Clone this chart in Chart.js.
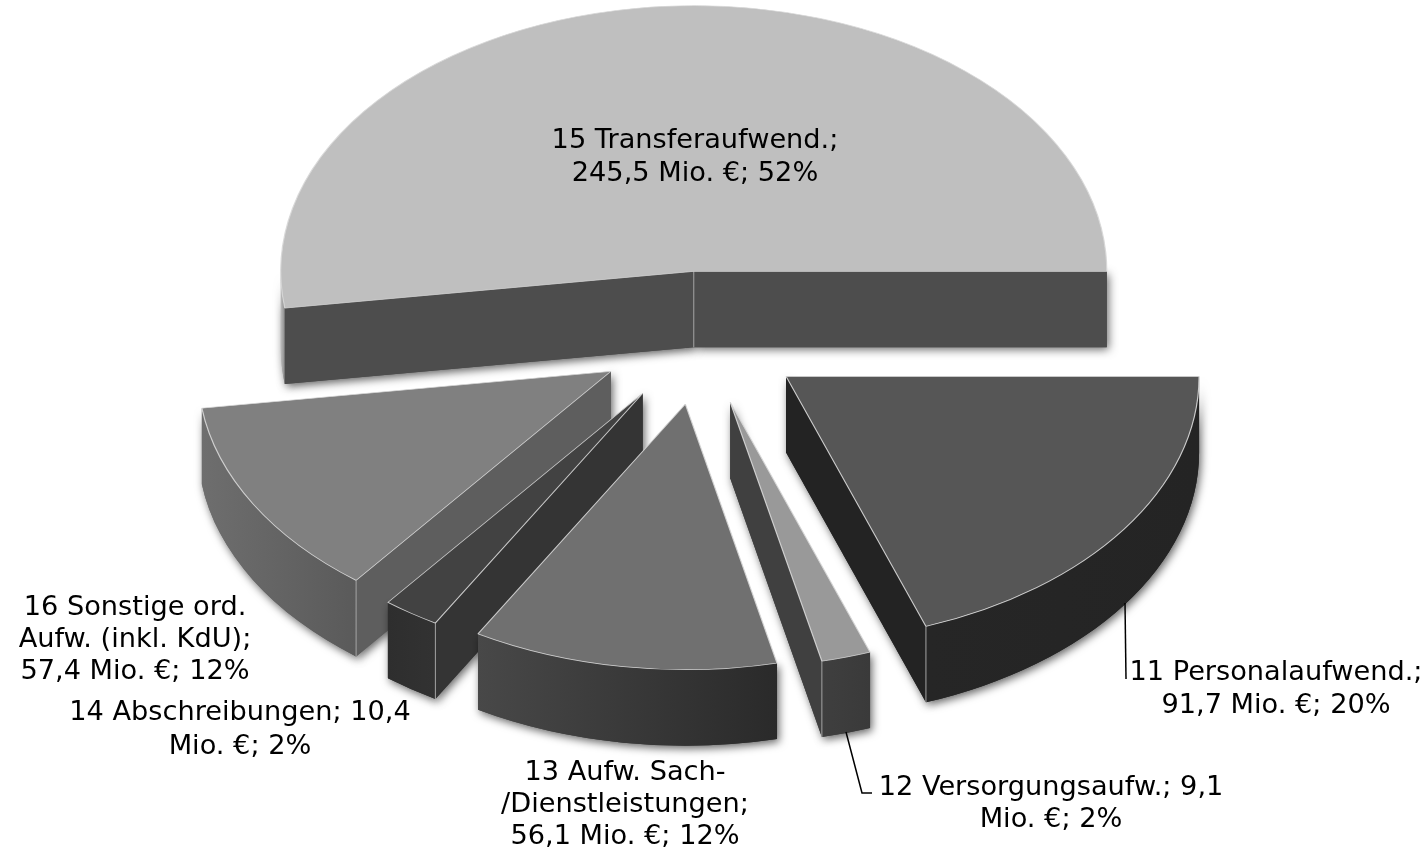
<!DOCTYPE html>
<html lang="de">
<head>
<meta charset="utf-8">
<title>Aufwendungen</title>
<script src="https://cdn.jsdelivr.net/npm/chart.js@4"></script>
<style>
  html, body { margin: 0; padding: 0; background: #fff; }
  #chart { display: block; }
</style>
</head>
<body>
<canvas id="chart" width="1428" height="854"></canvas>
<script>
const categories = ["11 Personalaufwend.", "12 Versorgungsaufw.", "13 Aufw. Sach-/Dienstleistungen", "14 Abschreibungen", "16 Sonstige ord. Aufw. (inkl. KdU)", "15 Transferaufwend."];
const values = [91.7, 9.1, 56.1, 10.4, 57.4, 245.5];
const labelLines = [
  ["11 Personalaufwend.;", "91,7 Mio. €; 20%"],
  ["12 Versorgungsaufw.; 9,1", "Mio. €; 2%"],
  ["13 Aufw. Sach-", "/Dienstleistungen;", "56,1 Mio. €; 12%"],
  ["14 Abschreibungen; 10,4", "Mio. €; 2%"],
  ["16 Sonstige ord.", "Aufw. (inkl. KdU);", "57,4 Mio. €; 12%"],
  ["15 Transferaufwend.;", "245,5 Mio. €; 52%"],
];

const topColors = ["#565656", "#999999", "#707070", "#424242", "#808080", "#bfbfbf"];
const outerColors = [["#262626", "#242424"], ["#3f3f3f", "#3a3a3a"], ["#484848", "#2a2a2a"], ["#2e2e2e", "#323232"], ["#6e6e6e", "#5a5a5a"], ["#bdbdbd", "#8a8a8a"]];
const sideColors = ["#232323", "#404040", "#3a3a3a", "#343434", "#5e5e5e", "#4d4d4d"];
const labelAnchors = [[1276, 673], [1051, 788], [625, 773], [240, 713], [135, 608], [695, 141]];
const lineHeights = [33, 32, 32, 34, 32, 33];
const leaders = [[[1125, 603], [1126, 679]], [[846, 732], [862, 793], [872, 793]]];

const squash = 0.643;
const depth = 76;
const explode = 104;
const drawOrder = [5, 4, 3, 2, 1, 0];

function wallShapes(arc, ctx, i) {
  const r = arc.outerRadius;
  const a0 = arc.startAngle, a1 = arc.endAngle;
  const mid = (a0 + a1) / 2;
  const cx = arc.x + Math.cos(mid) * explode;
  const cy = arc.y + Math.sin(mid) * explode * squash;
  const edge = a => [cx + Math.cos(a) * r, cy + Math.sin(a) * r * squash];
  const shapes = [];

  function side(a) {
    const p = edge(a);
    shapes.push({ color: sideColors[i], path: c => {
      c.moveTo(cx, cy);
      c.lineTo(p[0], p[1]);
      c.lineTo(p[0], p[1] + depth);
      c.lineTo(cx, cy + depth);
      c.closePath();
    } });
  }

  const startShows = Math.sin(a0 - Math.PI / 2) > 0;
  const endShows = Math.sin(a1 + Math.PI / 2) > 0;

  const from = Math.max(a0, 0), to = Math.min(a1, Math.PI);
  if (to > from) {
    const g = ctx.createLinearGradient(edge(to)[0], 0, edge(from)[0], 0);
    g.addColorStop(0, outerColors[i][0]);
    g.addColorStop(1, outerColors[i][1]);
    shapes.push({ color: g, path: c => {
      c.ellipse(cx, cy, r, r * squash, 0, from, to);
      c.ellipse(cx, cy + depth, r, r * squash, 0, to, from, true);
      c.closePath();
    } });
  }
  if (startShows) side(a0);
  if (endShows) side(a1);

  const verticals = [];
  if (startShows && i !== 5) verticals.push(edge(a0));
  if (endShows && to > from && a1 < Math.PI) verticals.push(edge(a1));
  if (startShows && endShows) verticals.push([cx, cy]);
  return { shapes, verticals, cx, cy };
}

const pie3d = {
  id: "pie3d",
  beforeDatasetsDraw(chart) {
    const ctx = chart.ctx;
    const arcs = chart.getDatasetMeta(0).data;

    drawOrder.forEach(i => {
      const w = wallShapes(arcs[i], ctx, i);
      ctx.save();
      ctx.shadowColor = "rgba(0,0,0,0.6)";
      ctx.shadowBlur = 9;
      ctx.shadowOffsetX = 2;
      ctx.shadowOffsetY = 3;
      w.shapes.forEach(s => {
        ctx.beginPath();
        s.path(ctx);
        ctx.fillStyle = s.color;
        ctx.fill();
      });
      ctx.restore();
      w.shapes.forEach(s => {
        ctx.beginPath();
        s.path(ctx);
        ctx.fillStyle = s.color;
        ctx.fill();
      });
      ctx.strokeStyle = "#a5a5a5";
      ctx.lineWidth = 1;
      w.verticals.forEach(p => {
        ctx.beginPath();
        ctx.moveTo(p[0], p[1]);
        ctx.lineTo(p[0], p[1] + depth);
        ctx.stroke();
      });
    });

    drawOrder.forEach(i => {
      const arc = arcs[i];
      const mid = (arc.startAngle + arc.endAngle) / 2;
      ctx.save();
      ctx.translate(arc.x + Math.cos(mid) * explode, arc.y + Math.sin(mid) * explode * squash);
      ctx.scale(1, squash);
      ctx.translate(-arc.x, -arc.y);
      arc.draw(ctx);
      ctx.restore();
    });
    return false;
  },
  afterDraw(chart) {
    const ctx = chart.ctx;
    ctx.save();
    ctx.strokeStyle = "#000";
    ctx.lineWidth = 1.5;
    leaders.forEach(l => {
      ctx.beginPath();
      l.forEach((p, n) => n ? ctx.lineTo(p[0], p[1]) : ctx.moveTo(p[0], p[1]));
      ctx.stroke();
    });
    ctx.fillStyle = "#000";
    ctx.font = '27.2px "DejaVu Sans"';
    ctx.textAlign = "center";
    ctx.textBaseline = "middle";
    labelLines.forEach((lines, i) => {
      lines.forEach((t, n) => {
        ctx.fillText(t, labelAnchors[i][0], labelAnchors[i][1] + n * lineHeights[i]);
      });
    });
    ctx.restore();
  },
};

new Chart(document.getElementById("chart"), {
  type: "pie",
  data: {
    labels: categories,
    datasets: [{
      data: values,
      backgroundColor: topColors,
      borderColor: "rgba(215,215,215,0.9)",
      borderWidth: 1.2,
      hoverOffset: 0,
    }],
  },
  options: {
    responsive: false,
    animation: false,
    rotation: 90,
    radius: 413,
    layout: { padding: { right: 26, bottom: 178 } },
    plugins: { legend: { display: false }, tooltip: { enabled: false } },
  },
  plugins: [pie3d],
});
</script>
</body>
</html>
